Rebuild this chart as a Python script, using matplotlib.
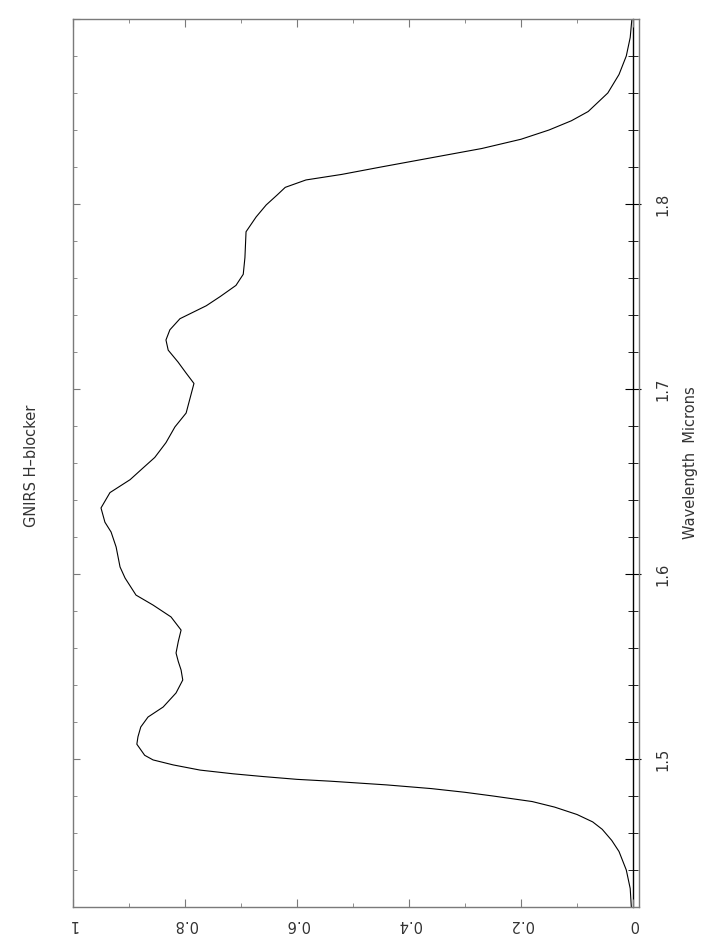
import matplotlib
matplotlib.use("Agg")
import matplotlib.pyplot as plt
from matplotlib.ticker import MultipleLocator

# Filter transmission (wavelength in microns, transmission)
wavelength = [1.420, 1.430, 1.440, 1.450, 1.456, 1.462, 1.466, 1.470, 1.474, 1.477,
              1.480, 1.482, 1.484, 1.486, 1.488, 1.489, 1.4905, 1.492, 1.494, 1.4968,
              1.4995, 1.502, 1.505, 1.508, 1.512, 1.5173, 1.5227, 1.5281, 1.5357, 1.5427,
              1.5481, 1.5527, 1.5573, 1.5635, 1.5697, 1.5768, 1.5832, 1.5886, 1.5978, 1.6038,
              1.6146, 1.6227, 1.628, 1.6357, 1.644, 1.651, 1.6573, 1.663, 1.671, 1.6795,
              1.687, 1.695, 1.703, 1.7086, 1.7146, 1.721, 1.7265, 1.732, 1.738, 1.745,
              1.750, 1.756, 1.762, 1.771, 1.785, 1.793, 1.7995, 1.805, 1.809, 1.813,
              1.816, 1.820, 1.825, 1.830, 1.835, 1.840, 1.845, 1.850, 1.860, 1.870,
              1.880, 1.890, 1.900]
transmission = [0.003, 0.005, 0.012, 0.025, 0.038, 0.055, 0.072, 0.10, 0.14, 0.18,
                0.25, 0.30, 0.36, 0.44, 0.54, 0.60, 0.66, 0.714, 0.773, 0.821,
                0.857, 0.872, 0.879, 0.886, 0.884, 0.879, 0.866, 0.839, 0.816, 0.804,
                0.807, 0.812, 0.816, 0.812, 0.807, 0.825, 0.857, 0.8875, 0.907, 0.916,
                0.923, 0.932, 0.943, 0.95, 0.934, 0.898, 0.875, 0.854, 0.834, 0.818,
                0.798, 0.791, 0.784, 0.798, 0.8125, 0.830, 0.834, 0.827, 0.809, 0.762,
                0.737, 0.709, 0.696, 0.693, 0.691, 0.673, 0.655, 0.635, 0.621, 0.584,
                0.52, 0.45, 0.36, 0.27, 0.20, 0.15, 0.11, 0.08, 0.045, 0.025,
                0.012, 0.005, 0.002]

x_ticks = [1, 0.8, 0.6, 0.4, 0.2, 0]
x_tick_labels = ["1", "0.8", "0.6", "0.4", "0.2", "0"]
y_ticks = [1.5, 1.6, 1.7, 1.8]

frame = "#7a7a7a"
text_col = "#333333"
fs = 10.5

fig = plt.figure(figsize=(7.19, 9.48), dpi=100)
ax = fig.add_axes([73 / 719, 41 / 948, 566 / 719, 888 / 948])

ax.plot(transmission, wavelength, color="black", lw=0.8)

ax.set_xlim(1.0, -0.0107)
ax.set_ylim(1.42, 1.90)

for s in ax.spines.values():
    s.set_color(frame)
    s.set_linewidth(1.0)

# transmission axis (top and bottom)
ax.xaxis.set_minor_locator(MultipleLocator(0.1))
ax.set_xticks(x_ticks)
ax.set_xticklabels(x_tick_labels, rotation=180, color=text_col, fontsize=fs)
ax.tick_params(axis="x", which="both", direction="in", top=True, bottom=True,
               color=frame, pad=7)
ax.tick_params(axis="x", which="major", length=6)
ax.tick_params(axis="x", which="minor", length=3)

# wavelength axis: inward ticks on the left frame only
ax.yaxis.set_major_locator(MultipleLocator(0.1))
ax.yaxis.set_minor_locator(MultipleLocator(0.02))
ax.tick_params(axis="y", which="both", direction="in", left=True, right=False,
               labelleft=False, color=frame)
ax.tick_params(axis="y", which="major", length=5)
ax.tick_params(axis="y", which="minor", length=3)

# zero line with the labelled wavelength ticks crossing it
zero_frac = (1.0 - 0.0) / (1.0 + 0.0107)
sec = ax.secondary_yaxis(zero_frac)
sec.spines["right"].set_color("black")
sec.spines["right"].set_linewidth(1.0)
sec.yaxis.set_minor_locator(MultipleLocator(0.02))
sec.set_yticks(y_ticks)
sec.set_yticklabels([f"{v:.1f}" for v in y_ticks], rotation=90, va="center",
                    color=text_col, fontsize=fs)
sec.tick_params(axis="y", which="both", direction="inout", color="black", pad=10)
sec.tick_params(axis="y", which="major", length=12)
sec.tick_params(axis="y", which="minor", length=7)

fig.text(691 / 719, 1 - 463 / 948, "Wavelength  Microns", rotation=90,
         ha="center", va="center", color=text_col, fontsize=fs)
fig.text(32 / 719, 1 - 466 / 948, "GNIRS H\u2013blocker", rotation=90,
         ha="center", va="center", color=text_col, fontsize=fs)

fig.savefig("out.png", dpi=100)
